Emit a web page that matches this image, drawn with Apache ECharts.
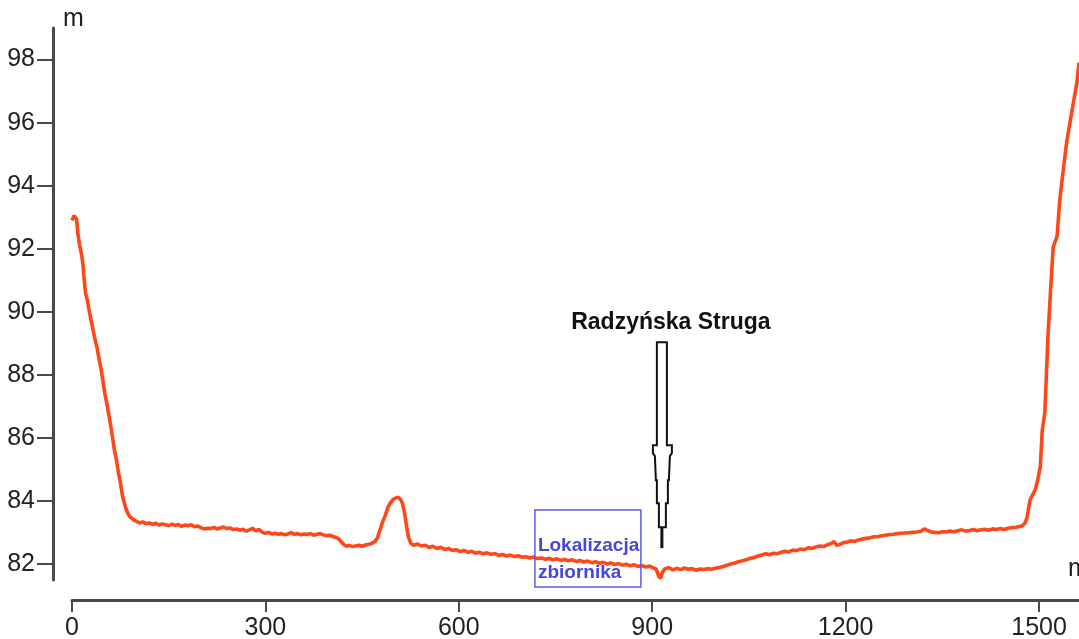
<!DOCTYPE html>
<html>
<head>
<meta charset="utf-8">
<script src="https://cdn.jsdelivr.net/npm/echarts@6.0.0/dist/echarts.min.js"></script>
<style>
  html, body { margin: 0; padding: 0; background: #fff; }
  #main { width: 1079px; height: 639px; }
</style>
</head>
<body>
<div id="main"></div>
<script>
// profil terenu: odległość [m] i wysokość [m n.p.m.]
const dist = [0, 3, 5, 7, 9, 12, 15, 17, 19, 21, 24, 27, 30, 33, 36, 39, 42, 45, 48, 51, 54, 57, 60, 63, 66, 69, 72, 75, 78, 81, 84, 87, 90,
  95, 100, 105, 110, 115, 120, 125, 130, 135, 140, 145, 150, 155, 160, 165, 170, 175, 180, 185, 190, 195, 200, 205, 210, 215, 220, 225,
  230, 235, 240, 245, 250, 255, 260, 265, 270, 275, 280, 285, 290, 295, 300, 305, 310, 315, 320, 325, 330, 335, 340, 345, 350, 355, 360,
  365, 370, 375, 380, 385, 390, 395, 400, 405, 410, 414, 418, 422, 426, 430, 435, 440, 445, 450, 455, 460, 465, 470, 474, 478, 482, 486,
  490, 494, 498, 502, 506, 510, 513, 516, 519, 522, 526,
  530, 536, 542, 548, 554, 560, 566, 572, 578, 584, 590, 596, 602, 608, 614, 620, 626, 632, 638, 644, 650, 656, 662, 668, 674, 680, 686,
  692, 698, 704, 710, 716, 722, 728, 734, 740, 746, 752, 758, 764, 770, 776, 782, 788, 794, 800, 806, 812, 818, 824, 830, 836, 842, 848,
  854, 860, 866, 872, 878, 884, 890, 896, 902, 906, 910, 913, 916,
  920, 926, 932, 938, 944, 950, 956, 962, 968, 974, 980, 986, 992, 998, 1004, 1010, 1016, 1022, 1028, 1034, 1040, 1046, 1052, 1058, 1064,
  1070, 1076, 1082, 1088, 1094, 1100, 1106, 1112, 1118, 1124, 1130, 1136, 1142, 1148, 1154, 1160, 1166, 1172, 1178, 1182, 1186, 1190,
  1196, 1202, 1208, 1214, 1220, 1226, 1232, 1238, 1244, 1250, 1256, 1262, 1268, 1274, 1280, 1286, 1292, 1298, 1304, 1310, 1316, 1322,
  1326, 1332, 1338, 1344, 1350, 1356, 1362, 1368, 1374, 1380, 1386, 1392, 1398, 1404, 1410, 1416, 1422, 1428, 1434, 1440, 1446, 1452,
  1458, 1464, 1470,
  1474, 1478, 1481, 1486, 1490, 1494, 1498, 1502, 1505, 1509, 1514, 1520, 1522, 1528, 1532, 1537, 1543, 1548, 1553, 1559, 1562];
const elev = [92.9, 93.05, 93.1, 92.95, 92.5, 92.1, 91.8, 91.5, 91.0, 90.6, 90.35, 90.0, 89.7, 89.4, 89.1, 88.85, 88.5, 88.2, 87.8, 87.4,
  87.1, 86.75, 86.4, 86.0, 85.6, 85.3, 84.9, 84.6, 84.2, 83.95, 83.75, 83.6, 83.5,
  83.42, 83.36, 83.31, 83.34, 83.29, 83.31, 83.26, 83.3, 83.24, 83.28, 83.25, 83.22, 83.27, 83.23, 83.26, 83.2, 83.24, 83.22, 83.25, 83.19,
  83.21, 83.16, 83.12, 83.14, 83.13, 83.17, 83.12,
  83.15, 83.18, 83.13, 83.15, 83.1, 83.12, 83.08, 83.11, 83.05, 83.09, 83.14, 83.06, 83.1, 83.02, 82.98, 83.01, 82.96, 82.98, 82.95, 82.97,
  82.93, 82.96, 83.0, 82.95, 82.97, 82.93, 82.96,
  82.94, 82.97, 82.92, 82.95, 82.97, 82.93, 82.9, 82.92, 82.88, 82.85, 82.8, 82.7, 82.62, 82.57, 82.6, 82.56, 82.58, 82.6, 82.57, 82.61,
  82.63, 82.66, 82.72, 82.85, 83.1, 83.35, 83.55,
  83.8, 83.95, 84.05, 84.1, 84.12, 84.05, 83.9, 83.6, 83.2, 82.85, 82.65,
  82.6, 82.64, 82.58, 82.6, 82.53, 82.57, 82.5, 82.54, 82.47, 82.5, 82.44, 82.46, 82.4, 82.44, 82.38, 82.41, 82.35, 82.38, 82.33, 82.36,
  82.31, 82.34, 82.28, 82.31, 82.26, 82.29, 82.24,
  82.27, 82.22, 82.24, 82.2, 82.23, 82.18, 82.2, 82.16, 82.19, 82.14, 82.17, 82.12, 82.15, 82.11, 82.14, 82.09, 82.12, 82.07, 82.1, 82.05,
  82.08, 82.03, 82.06, 82.01, 82.04, 81.99, 82.02,
  81.97, 82.0, 81.95, 81.98, 81.93, 81.96, 81.91, 81.94, 81.88, 81.85, 81.62, 81.55, 81.75,
  81.86, 81.89, 81.82, 81.87, 81.83, 81.88, 81.84, 81.86, 81.81, 81.85, 81.83, 81.86, 81.84, 81.87, 81.9, 81.93, 81.97, 82.01, 82.04,
  82.08, 82.11, 82.14, 82.19, 82.21, 82.26,
  82.29, 82.33, 82.3, 82.35, 82.33, 82.38, 82.41, 82.39, 82.45, 82.43, 82.48, 82.46, 82.52, 82.5, 82.55, 82.58, 82.56, 82.62, 82.66,
  82.72, 82.6, 82.62,
  82.68, 82.7, 82.74, 82.72, 82.77, 82.8, 82.82, 82.84, 82.87, 82.88, 82.9, 82.92, 82.94, 82.95, 82.97, 82.98, 82.99, 83.0, 83.01, 83.02,
  83.04, 83.12,
  83.08, 83.03, 83.01, 83.0, 83.03, 83.02, 83.05, 83.03, 83.06, 83.09, 83.05, 83.07, 83.1, 83.06, 83.09, 83.11, 83.08, 83.12, 83.1, 83.13,
  83.1, 83.14,
  83.16, 83.17, 83.2,
  83.22, 83.3, 83.45, 84.03, 84.2, 84.35, 84.67, 85.1, 86.25, 86.8, 89.3, 91.4, 92.05, 92.4, 93.5, 94.4, 95.4, 96.0, 96.6, 97.3, 97.9];
const yTicks = [82, 84, 86, 88, 90, 92, 94, 96, 98];
const xTicks = [0, 300, 600, 900, 1200, 1500];

const riverName = 'Radzyńska Struga';
const riverAt = [915, 82.51];      // grot strzałki
const boxLabel = ['Lokalizacja', 'zbiornika'];
const boxAt = [718, 83.72];         // lewy górny róg ramki

const axisColor = '#4a4a4a';
const labelFont = { fontFamily: 'Liberation Sans Narrow, Liberation Sans, Arial, sans-serif', fontSize: 25, color: '#222' };

const myChart = echarts.init(document.getElementById('main'));

const option = {
  animation: false,
  backgroundColor: '#fff',
  grid: { left: 72, right: 0, top: 28, bottom: 59, outerBoundsMode: 'none', containLabel: false },
  xAxis: {
    type: 'value',
    min: 0,
    max: 1562,
    offset: 20,
    name: 'm',
    nameLocation: 'end',
    nameGap: -11,
    nameTextStyle: Object.assign({}, labelFont, { align: 'left', verticalAlign: 'bottom', padding: [0, 0, 18, 0] }),
    axisLine: { onZero: false, lineStyle: { color: axisColor, width: 3 } },
    axisTick: { length: 12, lineStyle: { color: axisColor, width: 2 }, customValues: xTicks },
    axisLabel: Object.assign({}, labelFont, { margin: 16, customValues: xTicks, formatter: v => String(v) }),
    splitLine: { show: false }
  },
  yAxis: {
    type: 'value',
    min: 81.5,
    max: 99,
    offset: 19,
    name: 'm',
    nameLocation: 'end',
    nameGap: -4,
    nameTextStyle: Object.assign({}, labelFont, { align: 'left', padding: [0, 0, 0, 10] }),
    axisLine: { show: true, onZero: false, lineStyle: { color: axisColor, width: 3 } },
    axisTick: { show: true, length: 16, lineStyle: { color: axisColor, width: 2 }, customValues: yTicks },
    axisLabel: Object.assign({}, labelFont, { margin: 18, customValues: yTicks, formatter: v => String(v) }),
    splitLine: { show: false }
  },
  series: [{
    type: 'line',
    data: dist.map((d, i) => [d, elev[i]]),
    showSymbol: false,
    clip: false,
    lineStyle: { color: '#ff4719', width: 3.6 }
  }]
};
myChart.setOption(option);

// adnotacje: strzałka z nazwą cieku i ramka lokalizacji zbiornika
const tip = myChart.convertToPixel({ gridIndex: 0 }, riverAt);
const arrowShape = [[-5, -206], [5, -206], [5, -103], [10, -103], [10, -95], [8, -92], [7, -68], [6, -68], [6, -45], [4, -45],
  [4, -21], [-3, -21], [-3, -45], [-5, -45], [-5, -68], [-6, -68], [-7, -92], [-9, -95], [-9, -103], [-5, -103]];
const box = myChart.convertToPixel({ gridIndex: 0 }, boxAt);
const blue = '#4545d6';

myChart.setOption({
  graphic: [
    {
      type: 'polygon',
      shape: { points: arrowShape.map(p => [tip[0] + p[0], tip[1] + p[1]]) },
      style: { fill: '#fff', stroke: '#111', lineWidth: 2 },
      z: 10
    },
    {
      type: 'line',
      shape: { x1: tip[0], y1: tip[1] - 21, x2: tip[0], y2: tip[1] },
      style: { stroke: '#111', lineWidth: 3 },
      z: 10
    },
    {
      type: 'text',
      x: tip[0] + 9,
      y: tip[1] - 225,
      style: {
        text: riverName, fill: '#111', fontFamily: 'Liberation Sans, Arial, sans-serif',
        fontSize: 23, fontWeight: 'bold', align: 'center', verticalAlign: 'middle'
      },
      z: 10
    },
    {
      type: 'rect',
      shape: { x: box[0], y: box[1], width: 106, height: 77 },
      style: { fill: 'transparent', stroke: '#5c5ce8', lineWidth: 1.5 },
      z: 10
    },
    {
      type: 'text',
      x: box[0] + 3,
      y: box[1] + 36,
      style: {
        text: boxLabel[0], fill: blue, fontFamily: 'Liberation Sans, Arial, sans-serif',
        fontSize: 19, fontWeight: 'bold', align: 'left', verticalAlign: 'middle'
      },
      z: 10
    },
    {
      type: 'text',
      x: box[0] + 3,
      y: box[1] + 63,
      style: {
        text: boxLabel[1], fill: blue, fontFamily: 'Liberation Sans, Arial, sans-serif',
        fontSize: 19, fontWeight: 'bold', align: 'left', verticalAlign: 'middle'
      },
      z: 10
    }
  ]
});
</script>
</body>
</html>
